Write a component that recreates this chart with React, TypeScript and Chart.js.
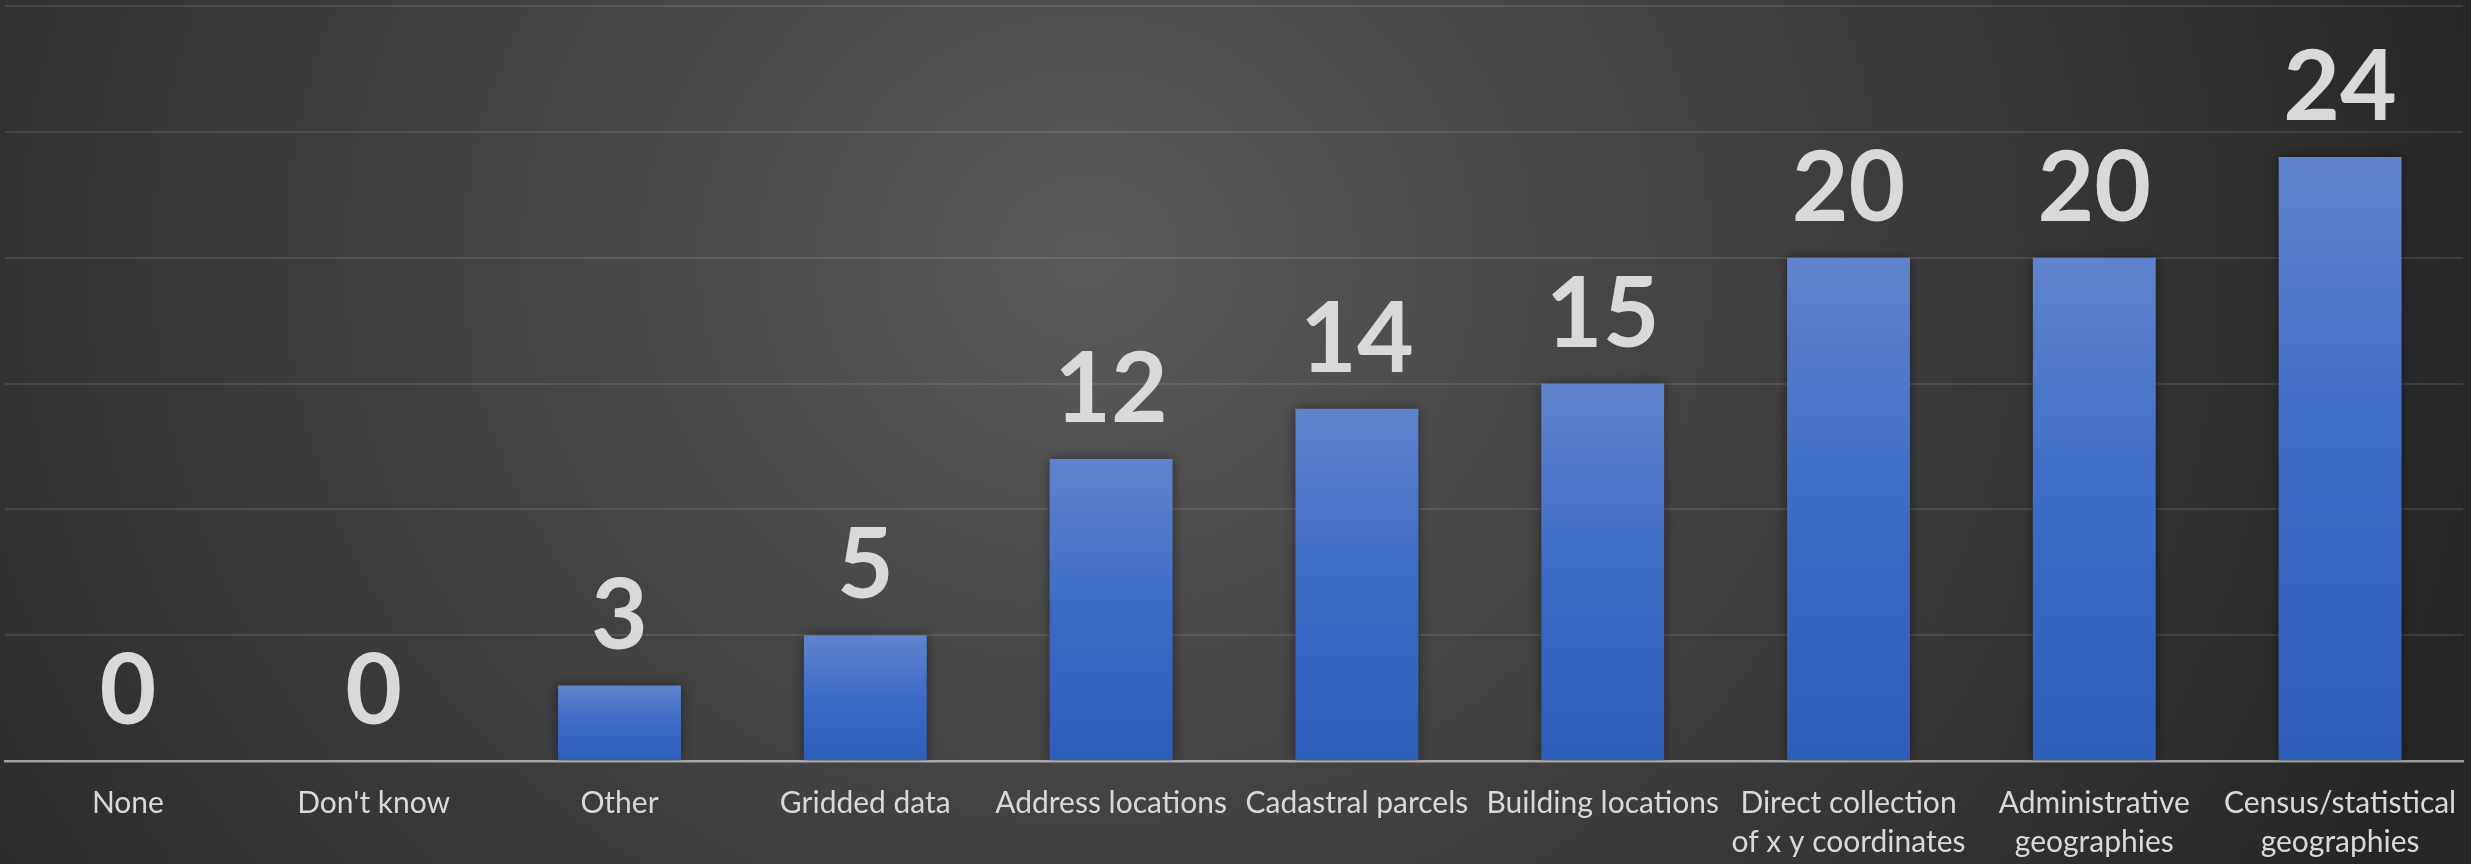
import React, { useRef, useEffect } from 'react';
import { Chart, registerables } from 'chart.js';

Chart.register(...registerables);

const categories = [
  'None',
  "Don't know",
  'Other',
  'Gridded data',
  'Address locations',
  'Cadastral parcels',
  'Building locations',
  ['Direct collection', 'of x y coordinates'],
  ['Administrative', 'geographies'],
  ['Census/statistical', 'geographies'],
];
const counts = [0, 0, 3, 5, 12, 14, 15, 20, 20, 24];
const yTicks = [0, 5, 10, 15, 20, 25, 30];

const FONT = "Lato, 'Noto Sans', sans-serif";
const TEXT = '#d9d9d9';

// value numbers above each bar
const valueLabels = {
  id: 'valueLabels',
  afterDatasetsDraw(chart: any) {
    const { ctx } = chart;
    const meta = chart.getDatasetMeta(0);
    ctx.save();
    ctx.font = `bold 98px ${FONT}`;
    ctx.fillStyle = TEXT;
    ctx.textAlign = 'center';
    ctx.textBaseline = 'alphabetic';
    meta.data.forEach((bar: any, i: number) => {
      ctx.fillText(String(counts[i]), bar.x, bar.y - 37);
    });
    ctx.restore();
  },
};

// soft shadow round the bars
const barShadow = {
  id: 'barShadow',
  beforeDatasetDraw(chart: any) {
    const { ctx } = chart;
    ctx.save();
    ctx.shadowColor = 'rgba(0, 0, 0, 0.45)';
    ctx.shadowBlur = 10;
    ctx.shadowOffsetX = 0;
    ctx.shadowOffsetY = 0;
  },
  afterDatasetDraw(chart: any) {
    chart.ctx.restore();
  },
};

const App: React.FC = () => {
  const chartRef = useRef<HTMLCanvasElement | null>(null);
  const chartInstance = useRef<Chart | null>(null);

  useEffect(() => {
    document.body.style.margin = '0';
    let cancelled = false;

    const build = () => {
      if (cancelled || !chartRef.current) return;
      const ctx = chartRef.current.getContext('2d');
      if (!ctx) return;
      chartInstance.current = new Chart(ctx, {
        type: 'bar',
        data: {
          labels: categories as any,
          datasets: [{
            data: counts,
            backgroundColor: (c: any) => {
              const { chart } = c;
              const { chartArea, scales } = chart;
              if (!chartArea || c.raw === undefined) return '#4472c4';
              const top = scales.y.getPixelForValue(c.raw);
              const bottom = scales.y.getPixelForValue(0);
              if (bottom - top < 1) return '#4472c4';
              const g = chart.ctx.createLinearGradient(0, top, 0, bottom);
              g.addColorStop(0, '#5f84cd');
              g.addColorStop(0.5, '#3c6bc6');
              g.addColorStop(1, '#2e5eba');
              return g;
            },
            borderWidth: 0,
            categoryPercentage: 1,
            barPercentage: 0.5,
          }],
        },
        options: {
          responsive: true,
          maintainAspectRatio: false,
          animation: false,
          layout: { padding: { left: 5, right: 8, top: 6, bottom: 2 } },
          plugins: {
            legend: { display: false },
            tooltip: { enabled: false },
          },
          scales: {
            x: {
              z: 1,
              grid: { display: false, drawTicks: false },
              border: { display: true, color: 'rgba(255,255,255,0.5)', width: 2.5 },
              ticks: {
                color: TEXT,
                font: { family: FONT, size: 30, lineHeight: 1.3 },
                padding: 23,
                maxRotation: 0,
                autoSkip: false,
              },
              afterFit: (scale: any) => {
                scale.height = 101;
                scale.paddingLeft = 0;
                scale.paddingRight = 0;
              },
            },
            y: {
              min: yTicks[0],
              max: yTicks[yTicks.length - 1],
              ticks: { display: false, stepSize: yTicks[1] - yTicks[0] },
              grid: { color: 'rgba(255,255,255,0.1)', lineWidth: 2, drawTicks: false },
              border: { display: false },
            },
          },
        },
        plugins: [barShadow, valueLabels],
      });
    };

    const fontsReady = (document as any).fonts
      ? Promise.all([
          (document as any).fonts.load(`bold 98px Lato`),
          (document as any).fonts.load(`30px Lato`),
        ]).catch(() => null)
      : Promise.resolve(null);
    fontsReady.then(build);

    return () => {
      cancelled = true;
      if (chartInstance.current) {
        chartInstance.current.destroy();
        chartInstance.current = null;
      }
    };
  }, []);

  return (
    <div
      style={{
        position: 'relative',
        width: 2471,
        height: 864,
        background: 'radial-gradient(ellipse 58% 150% at 44% 30%, #5a5a5a 0%, #3c3c3c 55%, #262626 100%)',
      }}
    >
      <canvas ref={chartRef}></canvas>
    </div>
  );
};

export default App;
